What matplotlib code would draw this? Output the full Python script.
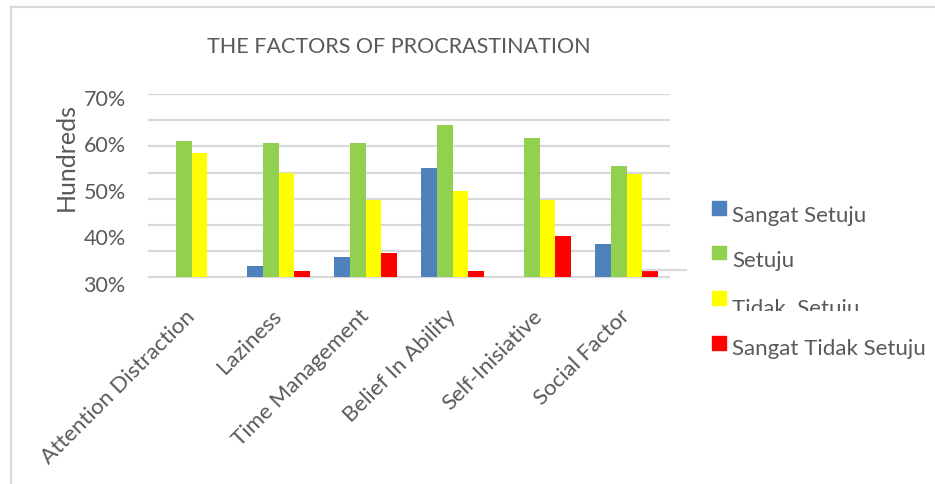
import matplotlib
import matplotlib.pyplot as plt
from matplotlib.patches import Rectangle
from matplotlib.lines import Line2D
from matplotlib.transforms import Bbox, ScaledTranslation
import numpy as np

matplotlib.use('Agg')

# Data (percent)
factors = ["Attention Distraction", "Laziness", "Time Management",
           "Belief In Ability", "Self-Inisiative", "Social Factor"]
series = ["Sangat Setuju", "Setuju", "Tidak  Setuju", "Sangat Tidak Setuju"]
sangat_setuju = [np.nan, 32.5, 34.4, 53.9, np.nan, 37.2]
setuju = [59.8, 59.4, 59.4, 63.2, 60.3, 54.3]
tidak_setuju = [57.1, 52.7, 47.0, 48.8, 47.0, 52.6]
sangat_tidak_setuju = [np.nan, 31.5, 35.4, 31.5, 39.0, 31.6]
y_labels = ["30%", "40%", "50%", "60%", "70%"]

colors = ["#4f81bd", "#92d050", "#ffff00", "#ff0000"]
text_col = "#595959"
grid_col = "#d9d9d9"
font = "Lato"

W, H = 935, 485
fig = plt.figure(figsize=(W / 100, H / 100), dpi=100)
plt.rcParams['font.family'] = [font, 'DejaVu Sans']

def fx(px):
    return px / W

def fy(py):
    return 1 - py / H

# plot area in pixels: x 148-670, y 95-284
ax = fig.add_axes([fx(148), fy(284), fx(670 - 148), (284 - 95) / H])

y0, y1 = 30, 70
ax.set_ylim(y0, y1)
ax.set_xlim(-0.5, len(factors) - 0.5)

# gridlines: 7 equal steps between the bottom and the top
for k in range(8):
    ax.axhline(y0 + k * (y1 - y0) / 7, color=grid_col, linewidth=1.6, zorder=0)

x = np.arange(len(factors))
bw = 0.18
all_vals = [sangat_setuju, setuju, tidak_setuju, sangat_tidak_setuju]
for i, vals in enumerate(all_vals):
    v = np.array(vals, dtype=float)
    ax.bar(x + (i - 1.5) * bw, v - y0, bottom=y0, width=bw,
           color=colors[i], linewidth=0, zorder=2, label=series[i])

for s in ax.spines.values():
    s.set_visible(False)

# y labels sit a bit off the gridlines, as in the source picture
ax.set_yticks([28.8, 39.0, 49.1, 59.3, 69.4], y_labels)
ax.tick_params(axis='y', length=0, pad=16, labelsize=15.5, labelcolor=text_col)
ax.set_xticks(x, factors, rotation=45, ha='right', rotation_mode='anchor', va='top')
ax.tick_params(axis='x', length=0, pad=16, labelsize=16, labelcolor=text_col)
shift = ScaledTranslation(-7 / 100, 0, fig.dpi_scale_trans)
for lab in ax.get_xticklabels():
    lab.set_transform(lab.get_transform() + shift)

fig.text(fx(66), fy(157), "Hundreds", rotation=90, ha='center', va='center',
         fontsize=18, color=text_col)
fig.text(fx(399), fy(47), "THE FACTORS OF PROCRASTINATION", ha='center', va='center',
         fontsize=15.5, color=text_col)

# legend, drawn by hand so the third entry can be cut off like the original
sq_top = [202, 246.7, 292.3, 337]
base = [221.7, 267.3, 315, 355]
for i, name in enumerate(series):
    fig.patches.append(Rectangle((fx(712), fy(sq_top[i] + 13.7)), fx(13.7), 13.7 / H,
                                 transform=fig.transFigure, color=colors[i]))
    t = fig.text(fx(732), fy(base[i]), name, ha='left', va='baseline',
                 fontsize=16, color=text_col)
    if i == 2:
        t.set_clip_box(Bbox([[700, H - 311.7], [935, H - 280]]))
        t.set_clip_on(True)

# frame of the chart area and a stray gridline piece
fig.add_artist(Line2D([fx(11), fx(11)], [fy(8), fy(485)], color=grid_col, linewidth=1.6))
fig.add_artist(Line2D([fx(11), fx(935)], [fy(8), fy(8)], color=grid_col, linewidth=1.6))
fig.add_artist(Line2D([fx(643), fx(686)], [fy(270.7), fy(270.7)], color=grid_col, linewidth=1.6))

fig.savefig("out.png", dpi=100)
